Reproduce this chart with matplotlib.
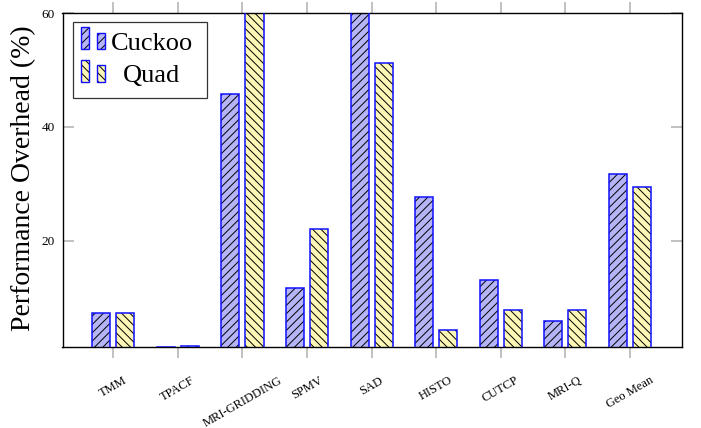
import numpy as np
import matplotlib
matplotlib.use("Agg")
import matplotlib.pyplot as plt
from matplotlib.patches import Rectangle

# Benchmarks and measured overheads (%)
benchmarks = ["TMM", "TPACF", "MRI-GRIDDING", "SPMV", "SAD", "HISTO",
              "CUTCP", "MRI-Q", "Geo Mean"]
cuckoo = [7.3, 1.3, 45.7, 11.8, 65.0, 27.7, 13.1, 6.0, 31.7]
quad = [7.4, 1.55, 63.0, 22.1, 51.3, 4.4, 7.9, 7.9, 29.4]
series_names = ["Cuckoo", "Quad"]
y_ticks = [20, 40, 60]

plt.rcParams["font.family"] = ["Liberation Serif", "DejaVu Serif"]
plt.rcParams["hatch.linewidth"] = 0.7

W, H = 701, 428
fig = plt.figure(figsize=(W / 100, H / 100), dpi=100)


def fx(px):
    return px / W


def fy(py):
    return 1 - py / H


ax = fig.add_axes([fx(62.5), fy(347.3), (681.7 - 62.5) / W, (347.3 - 13.0) / H])

face = {"Cuckoo": "#b4b4f6", "Quad": "#fdf7b6"}
hatch = {"Cuckoo": "////", "Quad": "\\\\\\\\"}
edge_blue = "#1010ff"

x = np.arange(len(benchmarks))
width = 0.28
offset = 0.186

for name, vals, off in [("Cuckoo", cuckoo, -offset), ("Quad", quad, offset)]:
    # hatched fill (hatch takes the black edge colour), then a blue outline on top
    ax.bar(x + off, vals, width, color=face[name], edgecolor="black",
           hatch=hatch[name], linewidth=0, zorder=2)
    ax.bar(x + off, vals, width, fill=False, edgecolor=edge_blue,
           linewidth=1.1, zorder=3)

ax.set_xlim(-0.786, 8.80)
ax.set_ylim(1.3, 60)
ax.set_xticks(x)
ax.set_xticklabels(benchmarks, rotation=30)
ax.set_yticks(y_ticks)
ax.set_yticklabels([str(v) for v in y_ticks])

ax.tick_params(axis="x", direction="out", length=7.9, width=1.1,
               color="#b0b0b0", top=True, bottom=True, labelsize=9, pad=11.5)
ax.tick_params(axis="y", direction="in", length=7.9, width=1.1,
               color="#b0b0b0", left=True, right=True, labelsize=9.5, pad=5.5)

for s in ax.spines.values():
    s.set_linewidth(1.0)
    s.set_color("black")

# y axis title
fig.text(fx(23.5), fy(178), "Performance Overhead (%)", rotation=90,
         ha="center", va="center", fontsize=20)

# legend box with paired bar glyphs
fig.add_artist(Rectangle((fx(72.7), fy(98.3)), (206.7 - 72.7) / W, (98.3 - 21.7) / H,
                         transform=fig.transFigure, facecolor="white",
                         edgecolor="#333333", linewidth=0.9, zorder=5))

legend_rows = [("Cuckoo", 49.0, 50.5), ("Quad", 81.7, 81.7)]
for name, base, baseline in legend_rows:
    for px0, ph in [(81.0, 22.0), (97.0, 16.5)]:
        r = Rectangle((fx(px0), fy(base)), 7.5 / W, ph / H,
                      transform=fig.transFigure, facecolor=face[name],
                      edgecolor="black", hatch=hatch[name], linewidth=0, zorder=6)
        fig.add_artist(r)
        o = Rectangle((fx(px0), fy(base)), 7.5 / W, ph / H,
                      transform=fig.transFigure, fill=False,
                      edgecolor=edge_blue, linewidth=1.0, zorder=7)
        fig.add_artist(o)
    fig.text(fx(151.5), fy(baseline), name, ha="center", va="baseline",
             fontsize=19, zorder=8)

fig.savefig("out.png", dpi=100)
